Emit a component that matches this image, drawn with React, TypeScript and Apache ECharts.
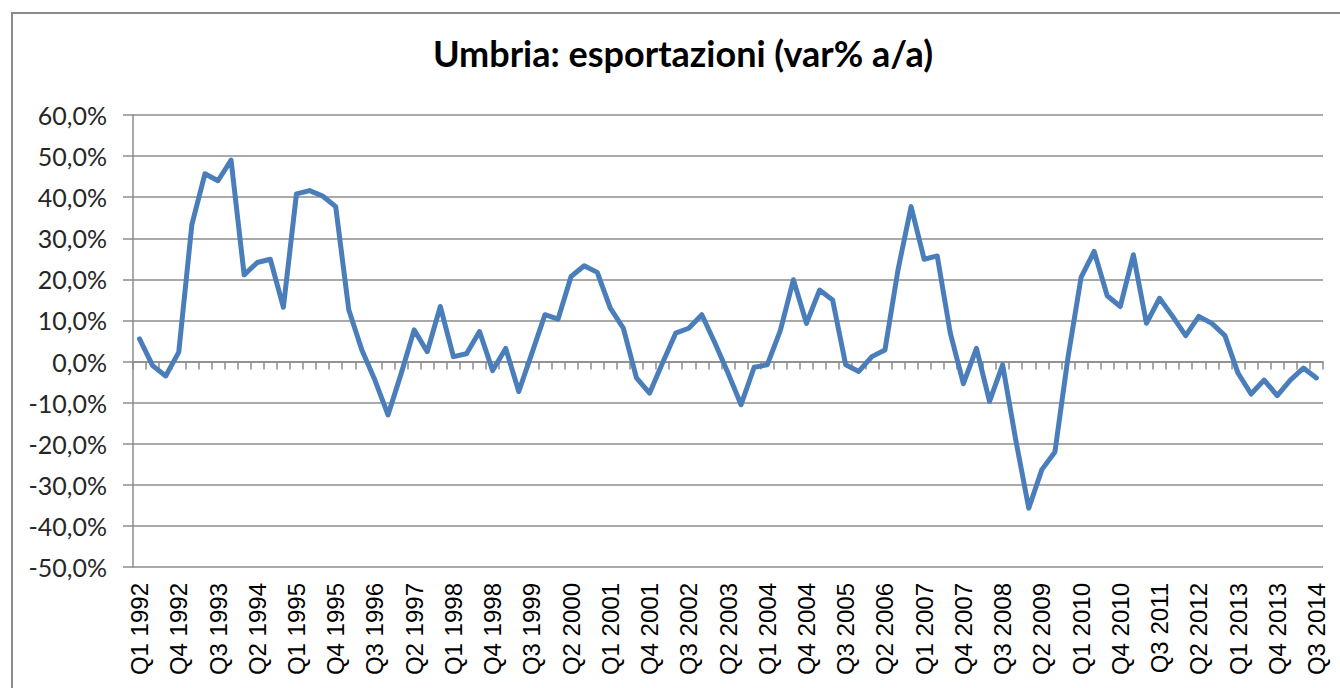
import React, { useEffect, useRef } from "react";
import * as echarts from "echarts";

const titleText = "Umbria: esportazioni (var% a/a)";

const quarters: string[] = [
  "Q1 1992", "Q2 1992", "Q3 1992", "Q4 1992",
  "Q1 1993", "Q2 1993", "Q3 1993", "Q4 1993",
  "Q1 1994", "Q2 1994", "Q3 1994", "Q4 1994",
  "Q1 1995", "Q2 1995", "Q3 1995", "Q4 1995",
  "Q1 1996", "Q2 1996", "Q3 1996", "Q4 1996",
  "Q1 1997", "Q2 1997", "Q3 1997", "Q4 1997",
  "Q1 1998", "Q2 1998", "Q3 1998", "Q4 1998",
  "Q1 1999", "Q2 1999", "Q3 1999", "Q4 1999",
  "Q1 2000", "Q2 2000", "Q3 2000", "Q4 2000",
  "Q1 2001", "Q2 2001", "Q3 2001", "Q4 2001",
  "Q1 2002", "Q2 2002", "Q3 2002", "Q4 2002",
  "Q1 2003", "Q2 2003", "Q3 2003", "Q4 2003",
  "Q1 2004", "Q2 2004", "Q3 2004", "Q4 2004",
  "Q1 2005", "Q2 2005", "Q3 2005", "Q4 2005",
  "Q1 2006", "Q2 2006", "Q3 2006", "Q4 2006",
  "Q1 2007", "Q2 2007", "Q3 2007", "Q4 2007",
  "Q1 2008", "Q2 2008", "Q3 2008", "Q4 2008",
  "Q1 2009", "Q2 2009", "Q3 2009", "Q4 2009",
  "Q1 2010", "Q2 2010", "Q3 2010", "Q4 2010",
  "Q1 2011", "Q2 2011", "Q3 2011", "Q4 2011",
  "Q1 2012", "Q2 2012", "Q3 2012", "Q4 2012",
  "Q1 2013", "Q2 2013", "Q3 2013", "Q4 2013",
  "Q1 2014", "Q2 2014", "Q3 2014",
];

// export growth, % year on year
const exportGrowth: number[] = [
  5.5, -1.0, -3.5, 2.3, 33.3, 45.7, 44.0, 49.0, 21.1, 24.1,
  24.9, 13.2, 40.8, 41.6, 40.3, 37.7, 12.6, 2.8, -4.5, -13.0,
  -3.0, 7.7, 2.4, 13.4, 1.2, 1.9, 7.3, -2.2, 3.2, -7.3,
  2.0, 11.4, 10.3, 20.7, 23.3, 21.7, 13.0, 8.1, -4.0, -7.7,
  -0.3, 6.9, 8.1, 11.4, 4.5, -2.8, -10.5, -1.4, -0.8, 7.5,
  19.9, 9.3, 17.4, 15.0, -0.8, -2.4, 1.2, 2.8, 22.3, 37.7,
  24.9, 25.7, 6.9, -5.4, 3.2, -9.7, -0.8, -19.0, -35.7, -26.3,
  -22.0, 1.0, 20.5, 26.8, 16.0, 13.4, 26.0, 9.3, 15.4, 11.0,
  6.3, 11.0, 9.3, 6.3, -2.8, -7.9, -4.5, -8.3, -4.5, -1.6, -4.0,
];

const yMin = -50;
const yMax = 60;
const yStep = 10;

const gridColor = "#8c8c8c";

export default function App() {
  const ref = useRef<HTMLDivElement>(null);

  useEffect(() => {
    if (!ref.current) return;
    const chart = echarts.init(ref.current, undefined, { renderer: "svg" });
    chart.setOption({
      animation: false,
      backgroundColor: "#ffffff",
      graphic: [
        {
          type: "rect",
          z: -10,
          shape: { x: 12, y: 13, width: 1400, height: 720 },
          style: { fill: "none", stroke: "#8a8a8a", lineWidth: 2 },
          silent: true,
        },
        {
          type: "text",
          x: 683,
          y: 53,
          style: {
            text: titleText,
            font: "bold 36px Lato",
            fill: "#000000",
            textAlign: "center",
            textVerticalAlign: "middle",
          },
        },
      ],
      grid: { left: 133, right: 17, top: 115, bottom: 121, containLabel: false },
      xAxis: [
        {
          type: "category",
          data: quarters,
          position: "bottom",
          boundaryGap: true,
          axisLine: { show: true, onZero: true, lineStyle: { color: gridColor, width: 1.5 } },
          axisTick: { show: true, interval: 0, length: 8, lineStyle: { color: gridColor, width: 1.5 } },
          axisLabel: { show: false },
          splitLine: { show: false },
        },
        {
          type: "category",
          data: quarters,
          position: "bottom",
          boundaryGap: true,
          axisLine: { show: false, onZero: false },
          axisTick: { show: false },
          axisLabel: {
            show: true,
            interval: 2,
            rotate: 90,
            margin: 16,
            fontFamily: "Liberation Sans",
            fontSize: 24,
            color: "#000000",
          },
          splitLine: { show: false },
        },
      ],
      yAxis: {
        type: "value",
        min: yMin,
        max: yMax,
        interval: yStep,
        axisLine: { show: true, lineStyle: { color: gridColor, width: 1.5 } },
        axisTick: { show: true, length: 10, lineStyle: { color: gridColor, width: 1.5 } },
        axisLabel: {
          margin: 26,
          fontFamily: "Lato",
          fontSize: 25,
          color: "#262626",
          formatter: (v: number) => v.toFixed(1).replace(".", ",") + "%",
        },
        splitLine: { show: true, lineStyle: { color: gridColor, width: 1.5 } },
      },
      series: [
        {
          type: "line",
          xAxisIndex: 0,
          data: exportGrowth,
          symbol: "none",
          lineStyle: { color: "#4a7ebb", width: 5, join: "round", cap: "round" },
        },
      ],
    });
    return () => chart.dispose();
  }, []);

  return (
    <div
      ref={ref}
      style={{ position: "fixed", left: 0, top: 0, width: 1340, height: 688 }}
    />
  );
}
